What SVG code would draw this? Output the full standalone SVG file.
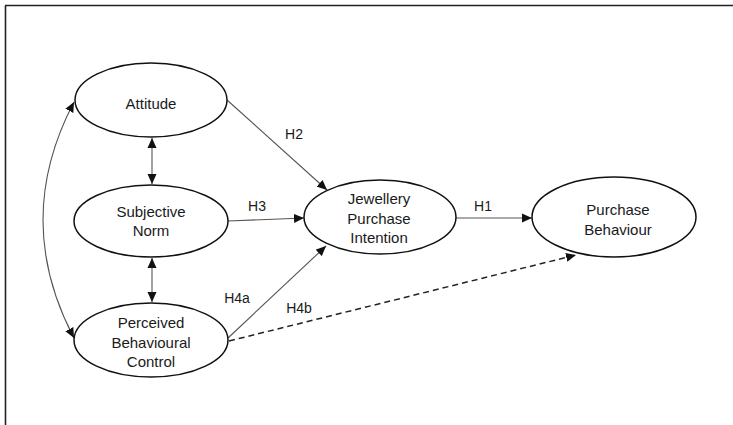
<svg xmlns="http://www.w3.org/2000/svg" width="733" height="425" viewBox="0 0 733 425">
<style>
.node ellipse{fill:#fff;stroke:#111;stroke-width:1.5}
text{font-family:"Liberation Sans",Arial,sans-serif;font-size:15px;fill:#1a1a1a;text-anchor:middle;dominant-baseline:central}
.lab{font-size:14px}
.c{fill:none;stroke:#555;stroke-width:1.1}
.d{fill:none;stroke:#222;stroke-width:1.5;stroke-dasharray:6,4}
</style>
<defs>
<marker id="ah" markerUnits="userSpaceOnUse" markerWidth="10" markerHeight="10" refX="10" refY="5" orient="auto-start-reverse" viewBox="0 0 10 10">
<path d="M0,0.5 L10,5 L0,9.5 z" fill="#111"/>
</marker>
</defs>
<rect width="733" height="425" fill="#fff"/>
<g id="frame" fill="none" stroke="#222" stroke-width="1.6">
<line x1="5.5" y1="5.5" x2="5.5" y2="425"/>
<line x1="5" y1="5.5" x2="733" y2="5.5"/>
</g>
<g id="connectors">
<line class="c" x1="152" y1="138" x2="152" y2="184" marker-start="url(#ah)" marker-end="url(#ah)"/>
<line class="c" x1="152" y1="258" x2="152" y2="302" marker-start="url(#ah)" marker-end="url(#ah)"/>
<path class="c" d="M74,102 Q12,220 74,338" marker-start="url(#ah)" marker-end="url(#ah)"/>
<line class="c" x1="227" y1="100" x2="327" y2="190" marker-end="url(#ah)"/>
<line class="c" x1="228" y1="221" x2="304" y2="218" marker-end="url(#ah)"/>
<line class="c" x1="228" y1="338" x2="326" y2="246" marker-end="url(#ah)"/>
<line class="c" x1="456" y1="218" x2="532" y2="218" marker-end="url(#ah)"/>
<line class="d" x1="229" y1="341" x2="576" y2="255" marker-end="url(#ah)"/>
<text class="lab" x="294" y="134">H2</text>
<text class="lab" x="257" y="206">H3</text>
<text class="lab" x="237" y="298">H4a</text>
<text class="lab" x="299" y="308">H4b</text>
<text class="lab" x="483" y="206">H1</text>
</g>
<g id="attitude" class="node">
<ellipse cx="151" cy="100" rx="76" ry="37"/>
<text x="151" y="103">Attitude</text>
</g>
<g id="subjective-norm" class="node">
<ellipse cx="151" cy="221" rx="77" ry="36"/>
<text x="151" y="211">Subjective</text>
<text x="151" y="230">Norm</text>
</g>
<g id="pbc" class="node">
<ellipse cx="151" cy="340" rx="77" ry="37"/>
<text x="151" y="322">Perceived</text>
<text x="151" y="342">Behavioural</text>
<text x="151" y="361">Control</text>
</g>
<g id="jpi" class="node">
<ellipse cx="380" cy="217" rx="76" ry="37"/>
<text x="379" y="198">Jewellery</text>
<text x="379" y="218">Purchase</text>
<text x="379" y="237">Intention</text>
</g>
<g id="pb" class="node">
<ellipse cx="614" cy="217" rx="82" ry="40"/>
<text x="618" y="209">Purchase</text>
<text x="618" y="229">Behaviour</text>
</g>
</svg>
